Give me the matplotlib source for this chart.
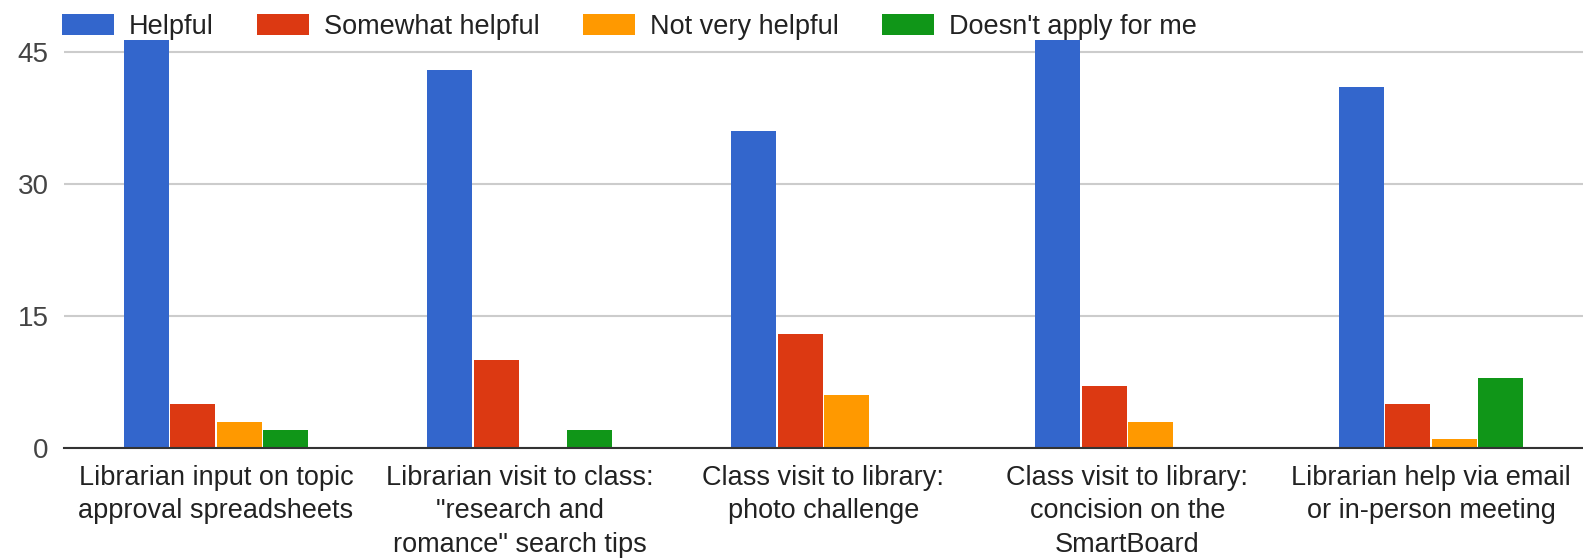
import matplotlib
matplotlib.use("Agg")
import matplotlib.pyplot as plt
import numpy as np

categories = [
    "Librarian input on topic\napproval spreadsheets",
    "Librarian visit to class:\n\"research and\nromance\" search tips",
    "Class visit to library:\nphoto challenge",
    "Class visit to library:\nconcision on the\nSmartBoard",
    "Librarian help via email\nor in-person meeting",
]
series_names = ["Helpful", "Somewhat helpful", "Not very helpful", "Doesn't apply for me"]
helpful = [47, 43, 36, 47, 41]
somewhat = [5, 10, 13, 7, 5]
not_very = [3, 0, 6, 3, 1]
doesnt_apply = [2, 2, 0, 0, 8]
yticks = [0, 15, 30, 45]

colors = ["#3366CC", "#DC3912", "#FF9900", "#109618"]

plt.rcParams['font.family'] = ['Liberation Sans', 'DejaVu Sans']

fig = plt.figure(figsize=(15.83, 5.6), dpi=100)
ax = fig.add_axes([0.0404, 0.2, 0.9596, 0.7286])

x = np.arange(len(categories))
bw = 0.153
data = [helpful, somewhat, not_very, doesnt_apply]
handles = []
for i, (vals, c, name) in enumerate(zip(data, colors, series_names)):
    h = ax.bar(x + (i - 1.5) * bw, vals, width=bw * 0.97, color=c, label=name, zorder=3)
    handles.append(h)

ax.set_xlim(-0.5, 4.5)
ax.set_ylim(0, 46.4)
ax.set_yticks(yticks)
ax.set_xticks(x)
ax.set_xticklabels(categories, fontsize=19.5, color="#222222", linespacing=1.38)
ax.tick_params(axis='y', labelsize=20, colors="#444444", length=0, pad=11)
ax.tick_params(axis='x', length=0, pad=12)
ax.grid(axis='y', color="#CCCCCC", linewidth=1.5, zorder=0)
for s in ["top", "right", "left"]:
    ax.spines[s].set_visible(False)
ax.spines["bottom"].set_color("#333333")
ax.spines["bottom"].set_linewidth(1.5)
ax.spines["bottom"].set_zorder(4)

fig.legend(handles=handles, labels=series_names, loc="center left",
           bbox_to_anchor=(0.0325, 0.952), ncol=4, frameon=False, fontsize=19.5,
           handlelength=1.9, handleheight=0.85, handletextpad=0.55,
           columnspacing=1.62, borderaxespad=0, labelcolor="#222222")

fig.savefig("out.png", dpi=100)
